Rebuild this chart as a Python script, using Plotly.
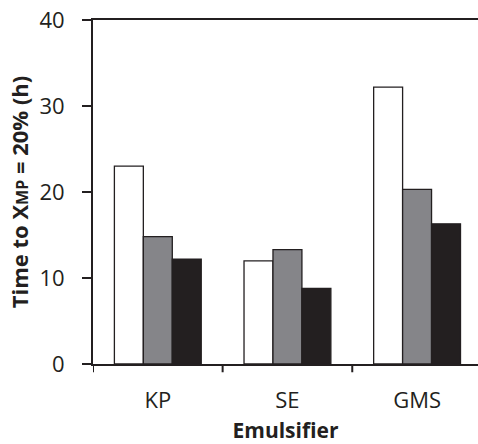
import plotly.graph_objects as go

# Emulsifier categories and time (h) to reach X_MP = 20 % for three conditions
categories = ["KP", "SE", "GMS"]
series_white = [23.0, 12.0, 32.2]
series_gray = [14.8, 13.3, 20.3]
series_black = [12.2, 8.8, 16.3]

y_ticks = [0, 10, 20, 30, 40]

ink = "#231f20"
font_family = "Open Sans, Noto Sans, sans-serif"

fig = go.Figure()
for vals, color in [(series_white, "#ffffff"), (series_gray, "#858589"), (series_black, "#231f20")]:
    fig.add_trace(go.Bar(
        x=categories, y=vals,
        marker=dict(color=color, line=dict(color=ink, width=1.3)),
        showlegend=False,
    ))

fig.update_layout(
    width=478, height=444,
    margin=dict(l=93, r=0, t=20, b=80),
    paper_bgcolor="white", plot_bgcolor="white",
    barmode="group", bargap=0.33, bargroupgap=0,
    font=dict(family=font_family, color=ink),
)

fig.update_xaxes(
    range=[-0.5, 2.47],
    showline=True, linecolor=ink, linewidth=2, mirror=True,
    showgrid=False, zeroline=False,
    tickmode="array", tickvals=[0, 1, 2], ticktext=categories,
    ticks="", tickfont=dict(size=22, color=ink),
    ticklabelstandoff=16,
    title=dict(text="<b>Emulsifier</b>", font=dict(size=21, color=ink), standoff=12),
)

# category boundary ticks below the x axis
for xb in [-0.5, 0.5, 1.5]:
    fig.add_shape(type="line", xref="x", yref="paper", x0=xb, x1=xb, y0=0, y1=-0.024,
                  line=dict(color=ink, width=2))

fig.update_yaxes(
    range=[0, 40],
    showline=True, linecolor=ink, linewidth=2,
    showgrid=False, zeroline=False,
    tickmode="array", tickvals=y_ticks,
    ticks="outside", ticklen=9, tickwidth=2, tickcolor=ink,
    tickfont=dict(size=22, color=ink),
    ticklabelstandoff=13,
    title=dict(text="<b>Time to X<span style='font-size:16px'>MP</span> = 20% (h)</b>",
               font=dict(size=22, color=ink), standoff=5),
)

fig.write_html("out.html")
